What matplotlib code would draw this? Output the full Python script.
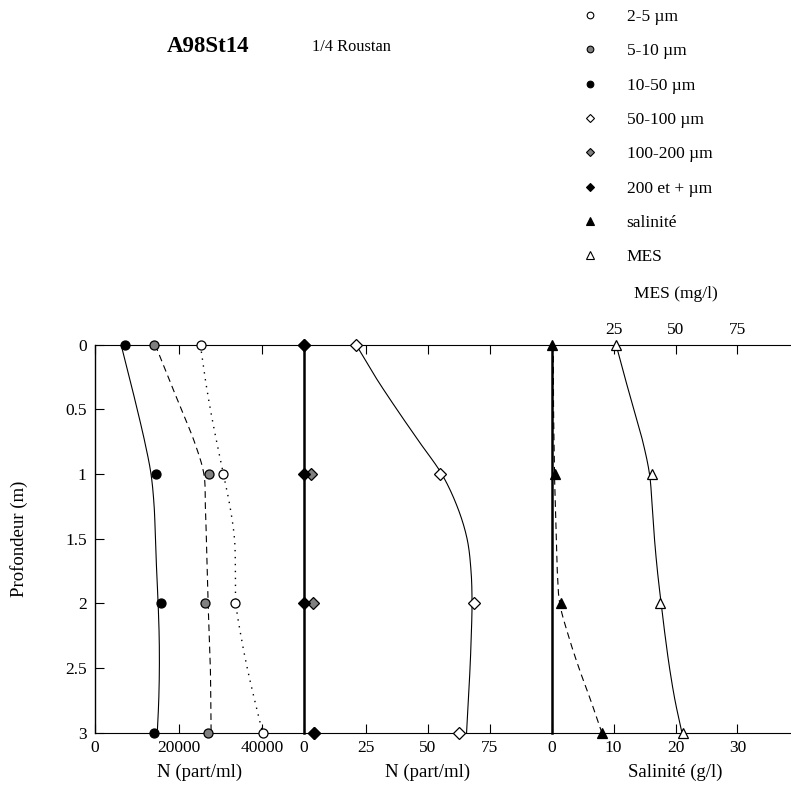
import numpy as np
import matplotlib
matplotlib.use('Agg')
import matplotlib.pyplot as plt
from matplotlib.lines import Line2D

plt.rcParams['font.family'] = ['Liberation Serif', 'DejaVu Serif']

# ---- data ----
depth = [0, 1, 2, 3]
n_2_5 = [25400, 30600, 33600, 40200]
n_5_10 = [14100, 27200, 26400, 27000]
n_10_50 = [7200, 14700, 15700, 14000]
n_50_100 = [21.2, 55.0, 68.8, 62.7]
n_100_200 = [0.0, 3.0, 3.8, 4.4]
n_200_plus = [0.0, 0.0, 0.0, 4.4]
salinite = [0.0, 0.5, 1.5, 8.1]
mes = [26.0, 40.5, 43.8, 52.9]

# smoothed curves as drawn in the reference (read at these depths)
curve_depth = [0, 0.25, 0.5, 0.75, 1, 1.25, 1.5, 1.75, 2, 2.25, 2.5, 2.75, 3]
curve_10_50 = [6240, 8200, 10100, 11900, 13400, 14150, 14450, 14750, 15100,
               15350, 15400, 15250, 14900]
curve_5_10 = [14400, 17500, 20650, 23770, 26050, 26400, 26650, 26850, 27060,
              27350, 27600, 27700, 27780]
curve_2_5 = [25200, 26300, 27600, 29100, 30730, 32290, 33370, 33600, 33720,
             34900, 36420, 38200, 40100]
curve_50_100 = [21.2, 29.0, 37.6, 46.6, 55.7, 61.9, 65.9, 67.5, 67.9, 67.6,
                67.1, 66.4, 65.7]
curve_sal = [0.26, 0.27, 0.3, 0.37, 0.45, 0.6, 0.75, 0.9, 1.3, 2.7, 4.4,
             6.3, 8.1]
curve_mes = [26.0, 29.5, 33.2, 36.8, 39.5, 40.6, 41.5, 42.7, 44.2, 45.8,
             47.6, 49.8, 52.6]

legend_labels = ['2-5 µm', '5-10 µm', '10-50 µm', '50-100 µm', '100-200 µm',
                 '200 et + µm', 'salinité', 'MES']
y_ticks = [0, 0.5, 1, 1.5, 2, 2.5, 3]
y_ticklabels = ['0', '0.5', '1', '1.5', '2', '2.5', '3']


def smooth(t, v, n=20):
    t = np.asarray(t, float)
    v = np.asarray(v, float)
    P = np.column_stack([v, t])
    P = np.vstack([2 * P[0] - P[1], P, 2 * P[-1] - P[-2]])
    s = np.linspace(0, 1, n)[:, None]
    out = []
    for i in range(1, len(P) - 2):
        p0, p1, p2, p3 = P[i - 1], P[i], P[i + 1], P[i + 2]
        seg = 0.5 * ((2 * p1) + (-p0 + p2) * s
                     + (2 * p0 - 5 * p1 + 4 * p2 - p3) * s ** 2
                     + (-p0 + 3 * p1 - 3 * p2 + p3) * s ** 3)
        out.append(seg if i == 1 else seg[1:])
    out = np.vstack(out)
    return out[:, 0], out[:, 1]


W, H = 791, 790
fig = plt.figure(figsize=(W / 100, H / 100), dpi=100)

top_px, bot_px = 344.7, 732.7
b = 1 - bot_px / H
h = (bot_px - top_px) / H


def axes_px(x0, x1):
    return fig.add_axes([x0 / W, b, (x1 - x0) / W, h])


ax1 = axes_px(95, 304)
ax2 = axes_px(303.5, 551.7)
ax3 = axes_px(551.7, 799.3)

FS = 12.5
LFS = 13.5
ms = 6.5
gray = '#808080'
TL = 6.5

for ax in (ax1, ax2, ax3):
    ax.set_ylim(3, 0)
    ax.set_facecolor('none')
    ax.spines['right'].set_visible(False)
    ax.spines['top'].set_linewidth(0.8)
    ax.spines['bottom'].set_linewidth(0.8)
    ax.tick_params(axis='x', direction='in', length=TL, width=0.8,
                   labelsize=FS, pad=5, top=True)

ax1.set_yticks(y_ticks)
ax1.set_yticklabels(y_ticklabels)
ax1.tick_params(axis='y', direction='in', length=TL, width=0.8,
                labelsize=FS, pad=6)
ax1.spines['left'].set_linewidth(1.0)
ax1.set_ylabel('Profondeur (m)', fontsize=LFS, labelpad=27)
for ax in (ax2, ax3):
    ax.tick_params(axis='y', left=False, labelleft=False)
    ax.spines['left'].set_linewidth(1.8)
    ax.spines['left'].set_zorder(3)

# ---- panel 1 ----
ax1.set_xlim(0, 50000)
ax1.set_xticks([0, 20000, 40000])
ax1.set_xticklabels(['0', '20000', '40000'])
ax1.set_xlabel('N (part/ml)', fontsize=LFS, labelpad=6)
x, y = smooth(curve_depth, curve_10_50)
ax1.plot(x, y, color='black', lw=0.8)
x, y = smooth(curve_depth, curve_5_10)
ax1.plot(x, y, color='black', lw=0.8, ls=(0, (6, 4)))
x, y = smooth(curve_depth, curve_2_5)
ax1.plot(x, y, color='black', lw=1.0, ls=(0, (1, 4)))
ax1.plot(n_2_5, depth, 'o', mfc='white', mec='black', mew=0.9, ms=ms,
         clip_on=False, zorder=5)
ax1.plot(n_5_10, depth, 'o', mfc=gray, mec='black', mew=0.9, ms=ms,
         clip_on=False, zorder=5)
ax1.plot(n_10_50, depth, 'o', mfc='black', mec='black', mew=0.9, ms=ms,
         clip_on=False, zorder=5)

# ---- panel 2 ----
ax2.set_xlim(0, 100)
ax2.set_xticks([0, 25, 50, 75])
ax2.set_xlabel('N (part/ml)', fontsize=LFS, labelpad=6)
x, y = smooth(curve_depth, curve_50_100)
ax2.plot(x, y, color='black', lw=0.8)
ax2.plot(n_50_100, depth, 'D', mfc='white', mec='black', mew=0.9, ms=ms - 0.8,
         clip_on=False, zorder=5)
ax2.plot(n_100_200, depth, 'D', mfc=gray, mec='black', mew=0.9, ms=ms - 0.8,
         clip_on=False, zorder=5)
ax2.plot(n_200_plus, depth, 'D', mfc='black', mec='black', mew=0.9, ms=ms - 0.8,
         clip_on=False, zorder=6)

# ---- panel 3 ----
ax3.set_xlim(0, 40)
ax3.set_xticks([0, 10, 20, 30])
ax3.tick_params(axis='x', top=False)
ax3.spines['top'].set_visible(False)
ax3.set_xlabel('Salinité (g/l)', fontsize=LFS, labelpad=6)
x, y = smooth(curve_depth, curve_sal)
ax3.plot(x, y, color='black', lw=0.8, ls=(0, (6, 4)))
ax3.plot(salinite, depth, '^', mfc='black', mec='black', mew=0.9, ms=ms + 0.5,
         clip_on=False, zorder=5)

ax3t = ax3.twiny()
ax3t.set_xlim(0, 100)
ax3t.set_ylim(3, 0)
ax3t.set_xticks([25, 50, 75])
ax3t.tick_params(axis='x', direction='in', length=TL, width=0.8,
                 labelsize=FS, pad=5)
for s in ('left', 'right', 'bottom'):
    ax3t.spines[s].set_visible(False)
ax3t.spines['top'].set_linewidth(0.8)
ax3t.set_xlabel('MES (mg/l)', fontsize=FS, labelpad=17)
x, y = smooth(curve_depth, curve_mes)
ax3t.plot(x, y, color='black', lw=0.8)
ax3t.plot(mes, depth, '^', mfc='white', mec='black', mew=0.9, ms=ms + 0.5,
          clip_on=False, zorder=5)

# ---- titles ----
fig.text(208.5 / W, 1 - 47 / H, 'A98St14', fontsize=16.5, fontweight='bold',
         ha='center', va='center')
fig.text(351.5 / W, 1 - 47 / H, '1/4 Roustan', fontsize=11.8,
         ha='center', va='center')

# ---- legend ----
lm = 4.8
handles = [
    Line2D([], [], ls='none', marker='o', mfc='white', mec='black', ms=lm, mew=0.8),
    Line2D([], [], ls='none', marker='o', mfc=gray, mec='black', ms=lm, mew=0.8),
    Line2D([], [], ls='none', marker='o', mfc='black', mec='black', ms=lm, mew=0.8),
    Line2D([], [], ls='none', marker='D', mfc='white', mec='black', ms=lm - 0.6, mew=0.8),
    Line2D([], [], ls='none', marker='D', mfc=gray, mec='black', ms=lm - 0.6, mew=0.8),
    Line2D([], [], ls='none', marker='D', mfc='black', mec='black', ms=lm - 0.6, mew=0.8),
    Line2D([], [], ls='none', marker='^', mfc='black', mec='black', ms=lm + 0.5, mew=0.8),
    Line2D([], [], ls='none', marker='^', mfc='white', mec='black', ms=lm + 0.5, mew=0.8),
]
fig.legend(handles, legend_labels, loc='upper left',
           bbox_to_anchor=(580 / W, 1 - 9 / H), frameon=False,
           fontsize=FS, handlelength=1.2, handletextpad=1.48,
           labelspacing=1.045, borderpad=0, borderaxespad=0)

fig.savefig('out.png', dpi=100)
